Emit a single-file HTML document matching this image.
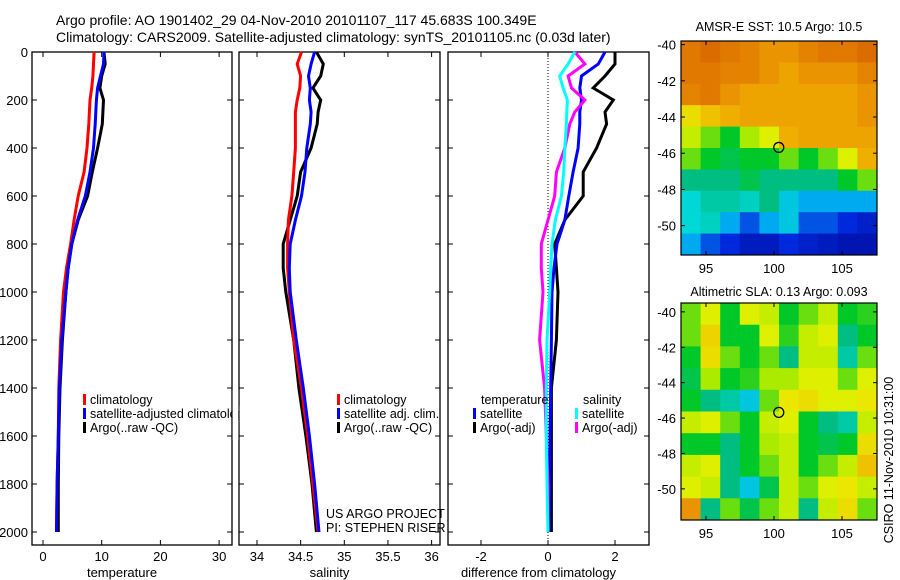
<!DOCTYPE html>
<html><head><meta charset="utf-8">
<style>
body{margin:0;background:#fff;}
svg{display:block;font-family:"Liberation Sans",sans-serif;}
text{fill:#000;}
</style></head>
<body>
<svg id="fig" width="900" height="580" viewBox="0 0 900 580">
<text x="56" y="25" font-size="14">Argo profile: AO 1901402_29 04-Nov-2010 20101107_117 45.683S 100.349E</text>
<text x="56" y="42" font-size="14">Climatology: CARS2009. Satellite-adjusted climatology: synTS_20101105.nc (0.03d later)</text>
<g id="g"></g>
</svg>
<script>
const depths=[0,50,100,150,200,250,300,400,500,600,700,800,900,1000,1200,1400,1600,1800,2000];
const tempClim=[8.7,8.6,8.5,8.3,8.0,7.9,7.8,7.5,7.0,6.0,5.3,4.7,4.0,3.5,3.0,2.7,2.6,2.4,2.3];
const tempSat=[10.4,10.3,9.8,9.3,9.1,9.0,8.9,8.6,8.0,7.2,5.9,4.9,4.3,3.9,3.2,2.8,2.6,2.4,2.3];
const tempArgo=[10.4,10.6,10.0,9.7,10.3,10.2,10.1,9.3,8.4,7.6,6.0,4.9,4.3,3.9,3.3,2.9,2.7,2.6,2.6];
const salClim=[34.51,34.46,34.5,34.49,34.46,34.44,34.44,34.44,34.42,34.40,34.36,34.35,34.35,34.37,34.42,34.51,34.58,34.64,34.70];
const salSat=[34.66,34.62,34.59,34.61,34.6,34.62,34.61,34.57,34.55,34.51,34.44,34.38,34.37,34.38,34.45,34.53,34.6,34.66,34.71];
const salArgo=[34.68,34.76,34.73,34.64,34.73,34.7,34.69,34.62,34.5,34.46,34.38,34.3,34.3,34.33,34.42,34.48,34.56,34.63,34.68];
const diffTempSat=[1.7,1.5,1.0,0.95,1.0,0.95,0.95,0.9,0.75,0.62,0.5,0.27,0.18,0.12,0.1,0.08,0.06,0.05,0.03];
const diffTempArgo=[2.0,2.0,1.7,1.35,1.95,1.7,1.75,1.45,1.05,1.05,0.5,0.2,0.25,0.3,0.25,0.1,0.1,0.1,0.1];
const diffSalSat=[0.8,0.6,0.35,0.45,0.58,0.56,0.55,0.5,0.47,0.4,0.22,0.12,0.08,0.05,-0.03,-0.05,-0.05,-0.03,0.0];
const diffSalArgo=[0.8,1.1,0.6,0.7,1.1,0.8,0.65,0.5,0.25,0.2,0.0,-0.2,-0.2,-0.15,-0.25,-0.1,-0.05,0.0,0.0];
const depthTicks=[0,200,400,600,800,1000,1200,1400,1600,1800,2000];
const tempTicks=[0,10,20,30];
const salTicks=[34,34.5,35,35.5,36];
const diffTicks=[-2,0,2];
const sstGrid=[
[.8,.82,.8,.78,.75,.75,.78,.8,.8,.82],
[.8,.8,.78,.78,.75,.72,.75,.75,.75,.78],
[.78,.8,.75,.72,.72,.72,.72,.72,.72,.75],
[.65,.68,.7,.72,.72,.72,.72,.72,.72,.75],
[.6,.55,.5,.58,.62,.7,.72,.72,.72,.72],
[.55,.5,.48,.5,.5,.55,.5,.55,.62,.7],
[.45,.45,.45,.48,.45,.45,.45,.45,.5,.55],
[.38,.42,.42,.4,.45,.35,.3,.3,.3,.3],
[.38,.4,.3,.2,.3,.35,.2,.2,.15,.12],
[.3,.2,.15,.1,.1,.15,.12,.1,.08,.08]];
const slaGrid=[
[.55,.62,.5,.62,.6,.5,.55,.6,.5,.52],
[.55,.66,.5,.5,.62,.52,.6,.62,.45,.5],
[.5,.65,.55,.5,.55,.45,.6,.6,.42,.55],
[.48,.58,.5,.52,.58,.58,.62,.62,.55,.62],
[.5,.45,.42,.35,.55,.64,.65,.62,.62,.64],
[.6,.62,.55,.5,.6,.62,.5,.45,.42,.6],
[.5,.5,.45,.5,.58,.6,.5,.48,.5,.65],
[.6,.62,.45,.5,.55,.6,.5,.55,.6,.68],
[.62,.6,.45,.35,.48,.6,.55,.62,.64,.6],
[.75,.45,.55,.48,.55,.6,.45,.6,.65,.55]];
const latTicks=[-40,-42,-44,-46,-48,-50];
const lonTicks=[95,100,105];

const NS='http://www.w3.org/2000/svg';
const G=document.getElementById('g');
function mk(tag,attrs,parent){const e=document.createElementNS(NS,tag);for(const k in attrs)e.setAttribute(k,attrs[k]);(parent||G).appendChild(e);return e;}
const yD=d=>52+d*0.24;

function panel(name,x0,x1,xf,ticks,fmt,label,showY,series){
  const gp=mk('g',{});
  
  
  const fr=mk('rect',{x:x0,y:52,width:x1-x0,height:493,fill:'none',stroke:'#000','stroke-width':1.3},gp);
  
  
  depthTicks.forEach(d=>{
    mk('line',{x1:x0,x2:x0+5,y1:yD(d),y2:yD(d),stroke:'#000'},gp);
    mk('line',{x1:x1,x2:x1-5,y1:yD(d),y2:yD(d),stroke:'#000'},gp);
    if(showY){const t=mk('text',{x:x0-4,y:yD(d)+5,'font-size':13,'text-anchor':'end'},gp);t.textContent=d;
      
      }
  });
  ticks.forEach(v=>{
    const x=xf(v);
    mk('line',{x1:x,x2:x,y1:52,y2:57,stroke:'#000'},gp);
    mk('line',{x1:x,x2:x,y1:545,y2:540,stroke:'#000'},gp);
    const t=mk('text',{x:x,y:561,'font-size':13,'text-anchor':'middle'},gp);t.textContent=fmt(v);
    
    
  });
  const al=mk('text',{x:(x0+x1)/2-10,y:577,'font-size':13,'text-anchor':'middle'},gp);al.textContent=label;
  
  
  series.forEach(s=>{
    const pts=s.v.map((v,i)=>xf(v).toFixed(1)+','+yD(depths[i]).toFixed(1)).join(' ');
    const p=mk('polyline',{points:pts,fill:'none',stroke:s.c,'stroke-width':3,'stroke-linejoin':'miter'},gp);
    
    
  });
  return gp;
}
const xT=v=>43+5.87*v, xS=v=>257+87.3*(v-34), xDf=v=>548+33.5*v;
panel('temperature-panel',32,232,xT,tempTicks,v=>v,'temperature',true,[
 {v:tempClim,c:'#f00',n:'temp-climatology-line'},{v:tempArgo,c:'#000',n:'temp-argo-line'},{v:tempSat,c:'#00f',n:'temp-satellite-line'}]);
panel('salinity-panel',239,440,xS,salTicks,v=>v,'salinity',false,[
 {v:salArgo,c:'#000',n:'sal-argo-line'},{v:salClim,c:'#f00',n:'sal-climatology-line'},{v:salSat,c:'#00f',n:'sal-satellite-line'}]);
const zl=mk('line',{x1:xDf(0),x2:xDf(0),y1:52,y2:545,stroke:'#000','stroke-dasharray':'1,2'});


panel('difference-panel',448,649,xDf,diffTicks,v=>v,'difference from climatology',false,[
 {v:diffTempArgo,c:'#000',n:'diff-temp-argo-line'},{v:diffTempSat,c:'#00f',n:'diff-temp-satellite-line'},
 {v:diffSalArgo,c:'#f0f',n:'diff-sal-argo-line'},{v:diffSalSat,c:'#0ff',n:'diff-sal-satellite-line'}]);

function legend(x,y,c,label){
  mk('rect',{x:x,y:y-10,width:3,height:11,fill:c});
  const t=mk('text',{x:x+7,y:y,'font-size':12.5});t.textContent=label;
  
  
}
legend(83,404,'#f00','climatology');legend(83,418,'#00f','satellite-adjusted climatology');legend(83,432,'#000','Argo(..raw -QC)');
mk('rect',{x:232.7,y:390,width:5.6,height:50,fill:'#fff'});
mk('rect',{x:239.7,y:406,width:14,height:16,fill:'#fff'});
legend(337,404,'#f00','climatology');legend(337,418,'#00f','satellite adj. clim.');legend(337,432,'#000','Argo(..raw -QC)');
let t1=mk('text',{x:481,y:404,'font-size':12.5});t1.textContent='temperature';


let t2=mk('text',{x:583,y:404,'font-size':12.5});t2.textContent='salinity';


legend(473,418,'#00f','satellite');legend(473,432,'#000','Argo(-adj)');
legend(575,418,'#0ff','satellite');legend(575,432,'#f0f','Argo(-adj)');
let p1=mk('text',{x:326,y:518,'font-size':12.5});p1.textContent='US ARGO PROJECT';


let p2=mk('text',{x:326,y:532,'font-size':12.5});
p2.textContent='PI: STEPHEN RISER';

const cmapStops=[[0,[0,0,130]],[0.15,[0,40,220]],[0.3,[0,170,240]],[0.38,[0,215,215]],[0.45,[0,190,130]],[0.5,[0,200,40]],[0.58,[170,235,0]],[0.63,[235,240,0]],[0.7,[240,175,0]],[0.8,[225,120,0]],[0.9,[190,60,0]],[1,[150,30,0]]];
function cmap(v){
  v=Math.max(0,Math.min(1,v));
  for(let i=1;i<cmapStops.length;i++){
    const [a,ca]=cmapStops[i-1],[b,cb]=cmapStops[i];
    if(v<=b){const t=(v-a)/(b-a);return 'rgb('+ca.map((c,k)=>Math.round(c+(cb[k]-c)*t)).join(',')+')';}
  }
  return 'rgb(150,30,0)';
}
function map(name,grid,top,bottom,latTop,latPerPx,title,titleY){
  const x0=681,x1=877;
  const lonX=l=>706+(l-95)*13.6;
  const latY=l=>top+(latTop-l)*latPerPx;
  const gm=mk('g',{});
  
  
  const rows=grid.length,cols=grid[0].length;
  const cw=(x1-x0)/cols,ch=(bottom-top)/rows;
  grid.forEach((row,i)=>row.forEach((v,j)=>{
    const r=mk('rect',{x:x0+j*cw,y:top+i*ch,width:cw+0.5,height:ch+0.5,fill:cmap(v)},gm);
    
    
  }));
  mk('rect',{x:x0,y:top,width:x1-x0,height:bottom-top,fill:'none',stroke:'#000','stroke-width':1.2},gm);
  latTicks.forEach(l=>{const y=latY(l);
    mk('line',{x1:x0,x2:x0+4,y1:y,y2:y,stroke:'#000'},gm);mk('line',{x1:x1,x2:x1-4,y1:y,y2:y,stroke:'#000'},gm);
    const t=mk('text',{x:x0-5,y:y+5,'font-size':13,'text-anchor':'end'},gm);t.textContent=l;
    
    });
  lonTicks.forEach(l=>{const x=lonX(l);
    mk('line',{x1:x,x2:x,y1:bottom,y2:bottom-4,stroke:'#000'},gm);mk('line',{x1:x,x2:x,y1:top,y2:top+4,stroke:'#000'},gm);
    const t=mk('text',{x:x,y:bottom+18,'font-size':13,'text-anchor':'middle'},gm);t.textContent=l;
    
    });
  const c=mk('ellipse',{cx:lonX(100.35),cy:latY(-45.68),rx:5,ry:5,fill:'none',stroke:'#000','stroke-width':1.3},gm);
  
  
  const tt=mk('text',{x:779,y:titleY,'font-size':12.5,'text-anchor':'middle'},gm);tt.textContent=title;
  
  
}
map('sst-map',sstGrid,41,255,-39.8,18.1,'AMSR-E SST: 10.5 Argo: 10.5',31);
map('sla-map',slaGrid,303,520,-39.5,17.7,'Altimetric SLA: 0.13 Argo: 0.093',296);
const cs=mk('text',{x:893,y:460,'font-size':12.5,'text-anchor':'middle',transform:'rotate(-90 893 460)'});


cs.textContent='CSIRO 11-Nov-2010 10:31:00';
</script>
</body></html>
